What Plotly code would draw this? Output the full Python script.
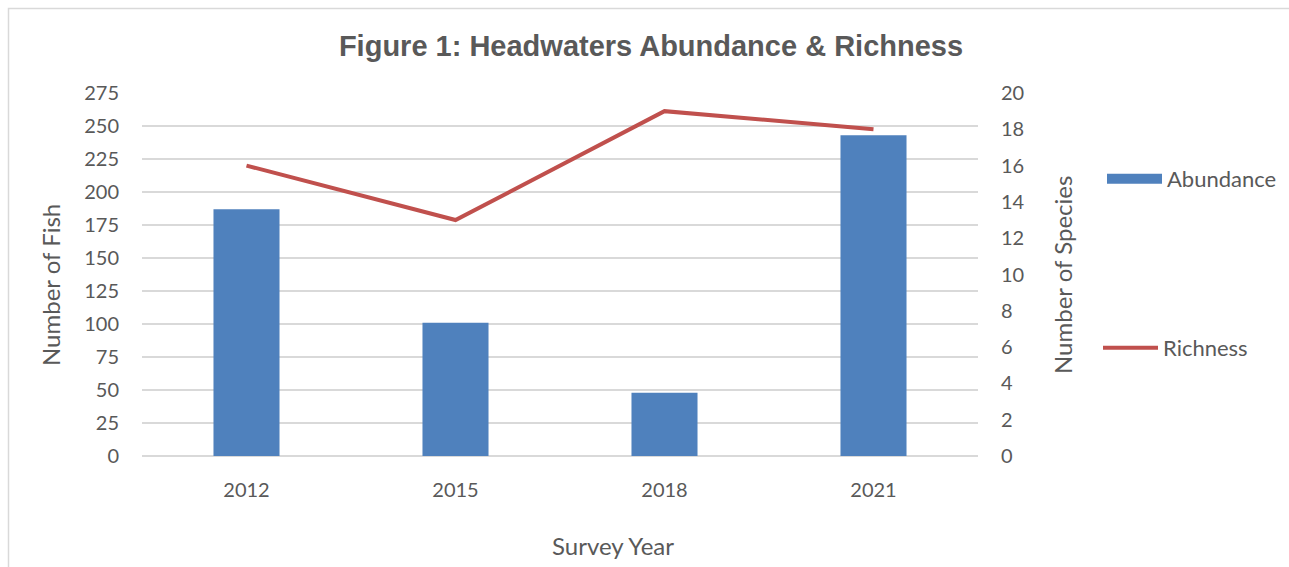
import plotly.graph_objects as go

years = ["2012", "2015", "2018", "2021"]
abundance = [187, 101, 48, 243]
richness = [16, 13, 19, 18]

W, H = 1289, 567
L, R, T, B = 142, 311, 93, 111
pw, ph = W - L - R, H - T - B

grid = "#D9D9D9"
txt = "#595959"
bar_col = "#4F81BD"
line_col = "#C0504D"
font_main = "Lato, 'Open Sans', sans-serif"


def px_x(p):
    return (p - L) / pw


def px_y(p):
    return (H - B - p) / ph


fig = go.Figure()
fig.add_trace(go.Bar(
    x=years, y=abundance, name="Abundance",
    marker=dict(color=bar_col, line=dict(width=0)),
    width=0.316, showlegend=False, legendgroup="abund",
))
# wide rectangular key for the bar series
fig.add_trace(go.Scatter(
    x=[None], y=[None], name="Abundance", mode="lines",
    line=dict(color=bar_col, width=13), legend="legend",
    legendgroup="abund", showlegend=True, hoverinfo="skip",
))
fig.add_trace(go.Scatter(
    x=years, y=richness, name="Richness", mode="lines",
    line=dict(color=line_col, width=4), yaxis="y2", legend="legend2",
    showlegend=True,
))

annotations = [
    dict(text="Number of Fish", x=px_x(50), y=px_y(285), textangle=-90),
    dict(text="Number of Species", x=px_x(1062), y=px_y(275), textangle=-90),
    dict(text="Survey Year", x=px_x(613), y=px_y(545), textangle=0),
]
for a in annotations:
    a.update(xref="paper", yref="paper", showarrow=False,
             xanchor="center", yanchor="middle",
             font=dict(family=font_main, size=24, color=txt))

fig.update_layout(
    width=W, height=H,
    margin=dict(l=L, r=R, t=T, b=B, autoexpand=False),
    paper_bgcolor="white", plot_bgcolor="white",
    showlegend=True,
    font=dict(family=font_main, size=20, color=txt),
    title=dict(
        text="<b>Figure 1: Headwaters Abundance &amp; Richness</b>",
        x=px_x(651), xref="paper", xanchor="center",
        y=1 - 46 / H, yref="container", yanchor="middle",
        font=dict(family="'Liberation Sans', Arial, sans-serif", size=29, color=txt),
    ),
    xaxis=dict(
        showgrid=False, showline=False, ticks="",
        ticklabelstandoff=20,
    ),
    yaxis=dict(
        range=[0, 275], tick0=0, dtick=25,
        showgrid=True, gridcolor=grid, gridwidth=1.5,
        zeroline=True, zerolinecolor=grid, zerolinewidth=1.5,
        ticklabelstandoff=22,
    ),
    yaxis2=dict(
        range=[0, 20], tick0=0, dtick=2, overlaying="y", side="right",
        showgrid=False, zeroline=False, ticklabelstandoff=22,
    ),
    legend=dict(
        x=px_x(1102), y=px_y(179), xanchor="left", yanchor="middle",
        bgcolor="rgba(0,0,0,0)", font=dict(size=22, color=txt),
        itemwidth=55,
    ),
    legend2=dict(
        x=px_x(1098), y=px_y(348), xanchor="left", yanchor="middle",
        bgcolor="rgba(0,0,0,0)", font=dict(size=22, color=txt),
        itemwidth=55,
    ),
    annotations=annotations,
    shapes=[dict(
        type="rect", xref="paper", yref="paper",
        x0=px_x(8.5), x1=px_x(W + 20), y0=px_y(H + 20), y1=px_y(8.5),
        line=dict(color=grid, width=1.5), fillcolor="rgba(0,0,0,0)", layer="below",
    )],
)

fig.write_html("out.html")
